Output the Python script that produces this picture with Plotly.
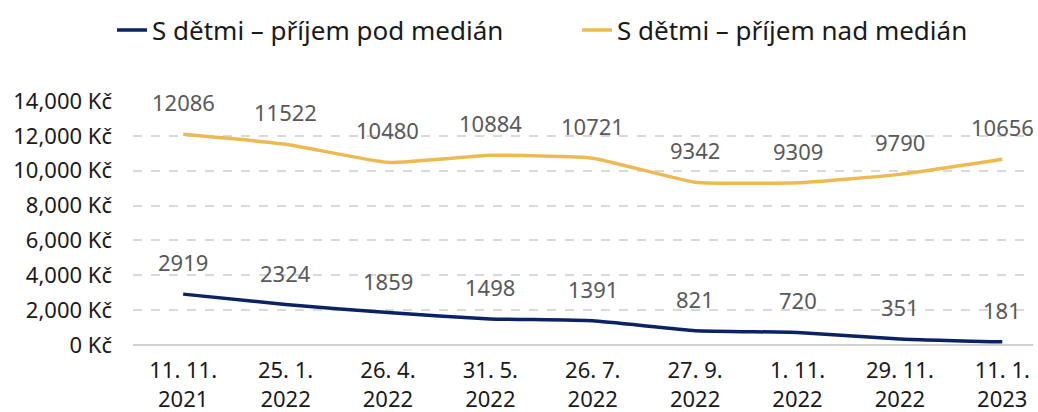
import plotly.graph_objects as go

categories = ["11. 11.<br>2021", "25. 1.<br>2022", "26. 4.<br>2022", "31. 5.<br>2022",
              "26. 7.<br>2022", "27. 9.<br>2022", "1. 11.<br>2022", "29. 11.<br>2022",
              "11. 1.<br>2023"]
series_names = ["S dětmi – příjem pod medián", "S dětmi – příjem nad medián"]
below_median = [2919, 2324, 1859, 1498, 1391, 821, 720, 351, 181]
above_median = [12086, 11522, 10480, 10884, 10721, 9342, 9309, 9790, 10656]
y_ticks = [0, 2000, 4000, 6000, 8000, 10000, 12000, 14000]
y_tick_text = ["0 Kč", "2,000 Kč", "4,000 Kč", "6,000 Kč", "8,000 Kč",
               "10,000 Kč", "12,000 Kč", "14,000 Kč"]

colors = ["#0B2264", "#EDBA52"]
FONT = "Noto Sans"

fig = go.Figure()
for name, vals, col, lg in zip(series_names, [below_median, above_median], colors,
                               ["legend", "legend2"]):
    fig.add_trace(go.Scatter(
        x=categories, y=vals, name=name, mode="lines", legend=lg,
        line=dict(color=col, width=3.5, shape="spline", smoothing=0.4),
        hoverinfo="skip",
    ))
    for c, v in zip(categories, vals):
        fig.add_annotation(x=c, y=v, text=str(v), showarrow=False,
                           yshift=32, font=dict(family=FONT, size=22, color="#595959"))

legend_common = dict(orientation="h", xref="container", xanchor="left",
                     yref="container", y=1 - 30 / 412, yanchor="middle",
                     font=dict(family=FONT, size=26, color="#1a1a1a"),
                     bgcolor="rgba(0,0,0,0)")

fig.update_layout(
    width=1038, height=412,
    margin=dict(l=133, r=5, t=101, b=67, autoexpand=False),
    paper_bgcolor="white", plot_bgcolor="white",
    font=dict(family=FONT, size=22, color="#1a1a1a"),
    showlegend=True,
    legend=dict(x=112 / 1038, **legend_common),
    legend2=dict(x=577 / 1038, **legend_common),
)
fig.update_xaxes(type="category", range=[-0.49, 8.3], showgrid=False,
                 showline=False, ticks="", tickfont=dict(size=22, color="#1a1a1a"),
                 ticklabelstandoff=10, automargin=False)
fig.update_yaxes(range=[0, 14000], tickvals=y_ticks, ticktext=y_tick_text,
                 showgrid=True, gridcolor="#d9d9d9", griddash="dash", gridwidth=1.5,
                 zeroline=True, zerolinecolor="#d0d0d0", zerolinewidth=2,
                 tickfont=dict(size=22, color="#1a1a1a"), ticklabelstandoff=20,
                 automargin=False)
fig.write_html("out.html", config={"displayModeBar": False},
               post_script="document.body.style.margin='0';")
